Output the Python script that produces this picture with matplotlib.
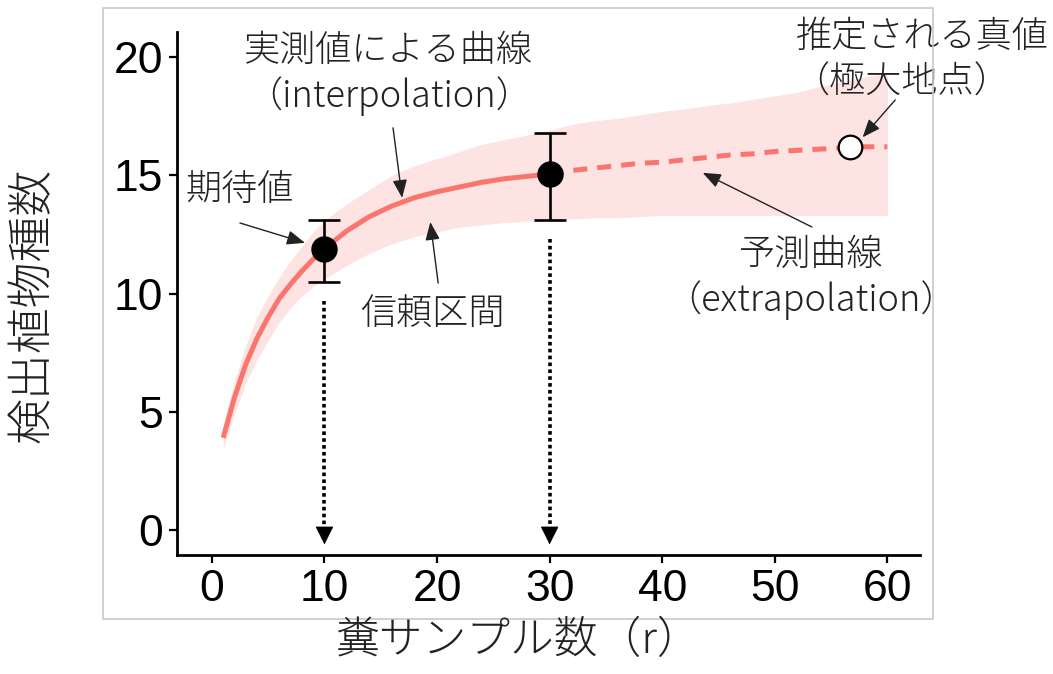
import numpy as np
import matplotlib
matplotlib.use("Agg")
import matplotlib.pyplot as plt
from matplotlib.patches import Rectangle

plt.rcParams["font.family"] = ["Noto Sans CJK JP", "DejaVu Sans"]

# 実測値による曲線 (interpolation)
m_interp = [1, 2, 3, 4, 5, 6, 7, 8, 9, 10, 12, 14, 16, 18, 20, 22, 24, 26, 28, 30]
s_interp = [3.9, 5.6, 7.0, 8.1, 9.0, 9.8, 10.4, 10.95, 11.45, 11.9,
            12.65, 13.25, 13.7, 14.05, 14.3, 14.5, 14.7, 14.85, 14.95, 15.05]
lo_interp = [3.4, 4.9, 6.2, 7.2, 8.0, 8.8, 9.4, 9.9, 10.3, 10.6,
             11.2, 11.7, 12.1, 12.4, 12.6, 12.8, 12.9, 13.0, 13.05, 13.1]
hi_interp = [4.4, 6.3, 7.8, 9.0, 9.9, 10.7, 11.4, 12.0, 12.6, 13.1,
             13.8, 14.4, 15.0, 15.4, 15.7, 16.0, 16.3, 16.5, 16.7, 16.9]

# 予測曲線 (extrapolation)
m_extrap = [30, 32, 34, 36, 38, 40, 42, 44, 46, 48, 50, 52, 54, 56, 58, 60]
s_extrap = [15.05, 15.2, 15.3, 15.4, 15.5, 15.55, 15.65, 15.75,
            15.85, 15.9, 16.0, 16.05, 16.1, 16.15, 16.2, 16.2]
lo_extrap = [13.1, 13.15, 13.2, 13.2, 13.25, 13.3, 13.3, 13.3,
             13.3, 13.3, 13.3, 13.3, 13.3, 13.3, 13.3, 13.3]
hi_extrap = [16.9, 17.15, 17.3, 17.4, 17.55, 17.7, 17.8, 17.95,
             18.05, 18.2, 18.35, 18.5, 18.75, 18.95, 19.15, 19.3]

# 期待値と誤差範囲
obs_x = [10, 30]
obs_y = [11.9, 15.05]
obs_lo = [10.5, 13.1]
obs_hi = [13.1, 16.8]

# 推定される真値
est_x = 56.7
est_y = 16.2

xticks = [0, 10, 20, 30, 40, 50, 60]
yticks = [0, 5, 10, 15, 20]

line_col = "#F8766D"
txt_col = "#222222"

fig = plt.figure(figsize=(10.53, 6.74), dpi=100)
fig.patches.append(Rectangle((103 / 1053, 1 - 619 / 674), 830 / 1053, 611 / 674,
                             transform=fig.transFigure, fill=False,
                             edgecolor="#c8c8c8", lw=1.2))

ax = fig.add_axes([177 / 1053, 1 - 555 / 674, 743 / 1053, 523 / 674])
ax.set_xlim(-3.1, 62.9)
ax.set_ylim(-1.05, 21.05)

# 信頼区間
ax.fill_between(m_interp, lo_interp, hi_interp, color=line_col, alpha=0.2, lw=0)
ax.fill_between(m_extrap, lo_extrap, hi_extrap, color=line_col, alpha=0.2, lw=0)

ax.plot(m_interp, s_interp, color=line_col, lw=3.6, solid_capstyle="butt")
ax.plot(m_extrap, s_extrap, color=line_col, lw=3.6,
        linestyle=(0, (2.8, 2.0)), dash_capstyle="butt")

# 縦の点線矢印
for x, lo in zip(obs_x, obs_lo):
    ax.plot([x, x], [lo - 0.8, -0.2], color="black", lw=2.6,
            linestyle=(0, (1, 0.9)), dash_capstyle="butt")
    ax.annotate("", xy=(x, -0.72), xytext=(x, 0.1),
                arrowprops=dict(arrowstyle="-|>,head_length=0.6,head_width=0.3",
                                mutation_scale=20, color="black", lw=0.5))

ax.errorbar(obs_x, obs_y,
            yerr=[np.array(obs_y) - np.array(obs_lo), np.array(obs_hi) - np.array(obs_y)],
            fmt="o", color="black", ms=18, ecolor="black", elinewidth=1.9,
            capsize=11.5, capthick=1.9, zorder=5)
ax.plot([est_x], [est_y], "o", ms=17, mfc="white", mec="black", mew=1.6, zorder=6)

for s in ["top", "right"]:
    ax.spines[s].set_visible(False)
for s in ["left", "bottom"]:
    ax.spines[s].set_linewidth(2.0)
ax.set_xticks(xticks)
ax.set_yticks(yticks)
ax.tick_params(width=1.6, length=6, pad=4, labelsize=32)
for lab in ax.get_xticklabels() + ax.get_yticklabels():
    lab.set_fontfamily("Liberation Sans")

fig.text(33 / 1053, 1 - 305 / 674, "検出植物種数", rotation=90, fontsize=33,
         ha="center", va="center", color=txt_col, fontweight="light")
fig.text(518 / 1053, 1 - 640 / 674, "糞サンプル数（r）", fontsize=31.5,
         ha="center", va="center", color=txt_col, fontweight="light")

arrow_kw = dict(arrowstyle="-|>,head_length=0.55,head_width=0.22",
                mutation_scale=20, color=txt_col, lw=1.0, shrinkA=0, shrinkB=0)
tkw = dict(fontsize=26, ha="center", va="center", color=txt_col,
           fontweight="light", clip_on=False)

ax.text(2.49, 14.33, "期待値", **tkw)
ax.annotate("", xy=(8.27, 12.14), xytext=(2.49, 12.98), arrowprops=arrow_kw)

ax.text(15.7, 20.25, "実測値による曲線", **tkw)
ax.text(15.7, 18.35, "（interpolation）", **tkw)
ax.annotate("", xy=(16.9, 14.04), xytext=(16.09, 17.0), arrowprops=arrow_kw)

ax.text(19.6, 9.13, "信頼区間", **tkw)
ax.annotate("", xy=(19.4, 13.02), xytext=(20.1, 10.44), arrowprops=arrow_kw)

ax.text(53.2, 11.63, "予測曲線", **tkw)
ax.text(53.2, 9.73, "（extrapolation）", **tkw)
ax.annotate("", xy=(43.6, 15.1), xytext=(53.3, 12.81), arrowprops=arrow_kw)

ax.text(63.1, 20.85, "推定される真値", **tkw)
ax.text(61.3, 18.9, "（極大地点）", **tkw)
ax.annotate("", xy=(57.8, 16.6), xytext=(60.7, 18.18), arrowprops=arrow_kw)

fig.savefig("out.png", dpi=100)
